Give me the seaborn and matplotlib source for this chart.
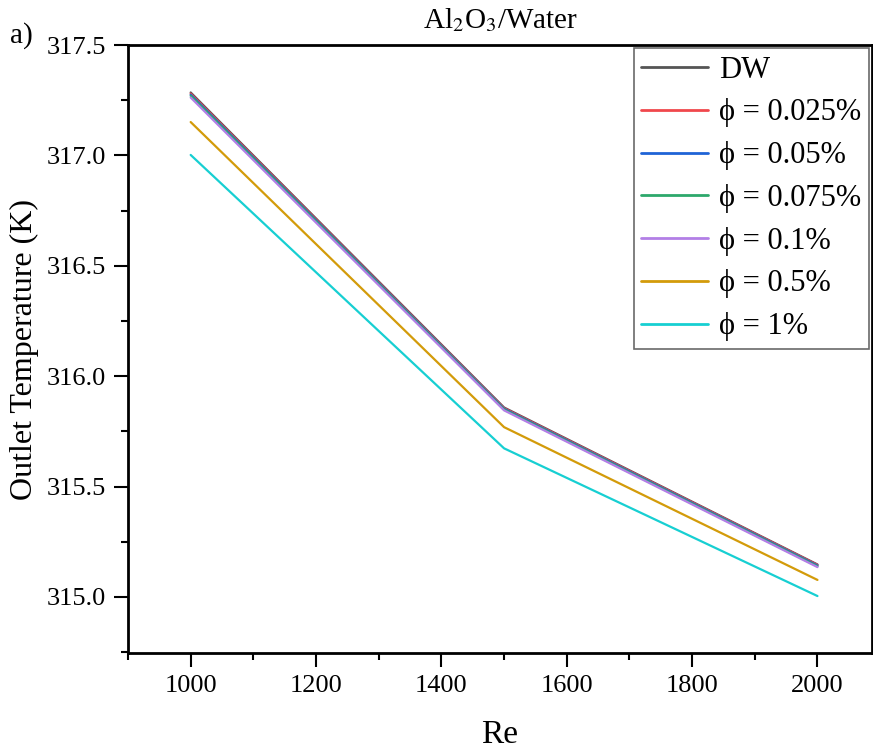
import pandas as pd
import matplotlib
matplotlib.use("Agg")
import matplotlib.pyplot as plt
import seaborn as sns
from matplotlib.ticker import MultipleLocator

# Data
re_values = [1000, 1500, 2000]
series_names = ["DW", "ϕ = 0.025%", "ϕ = 0.05%", "ϕ = 0.075%",
                "ϕ = 0.1%", "ϕ = 0.5%", "ϕ = 1%"]
t_dw = [317.285, 315.858, 315.147]
t_0025 = [317.280, 315.855, 315.145]
t_005 = [317.275, 315.852, 315.142]
t_0075 = [317.270, 315.849, 315.139]
t_01 = [317.262, 315.845, 315.135]
t_05 = [317.151, 315.769, 315.077]
t_1 = [317.002, 315.673, 315.004]
colors = ["#555555", "#F0474C", "#1F63D6", "#2DA86B", "#B27FE6", "#D39B0A", "#17CFD2"]

series = [t_dw, t_0025, t_005, t_0075, t_01, t_05, t_1]
rows = []
for name, vals in zip(series_names, series):
    for re, t in zip(re_values, vals):
        rows.append({"Re": re, "T": t, "case": name})
df = pd.DataFrame(rows)

sns.set_style("ticks", {"axes.edgecolor": "black", "text.color": "black",
                        "xtick.color": "black", "ytick.color": "black",
                        "axes.labelcolor": "black"})
plt.rcParams["font.family"] = ["Liberation Serif", "DejaVu Serif"]
plt.rcParams["mathtext.fontset"] = "stix"

fig = plt.figure(figsize=(8.73, 7.49), dpi=100)
ax = fig.add_axes([128 / 873, 1 - 653 / 749, 744 / 873, 608 / 749])

sns.lineplot(data=df, x="Re", y="T", hue="case", hue_order=series_names,
             palette=colors, linewidth=1.6, ax=ax, legend=True)

ax.set_xlim(900, 2087)
ax.set_ylim(314.746, 317.5)
ax.xaxis.set_major_locator(MultipleLocator(200))
ax.xaxis.set_minor_locator(MultipleLocator(100))
ax.yaxis.set_major_locator(MultipleLocator(0.5))
ax.yaxis.set_minor_locator(MultipleLocator(0.25))
ax.yaxis.set_major_formatter(matplotlib.ticker.FormatStrFormatter("%.1f"))
ax.tick_params(which="major", direction="out", length=10, width=1.5, labelsize=19, pad=6)
ax.tick_params(which="minor", direction="out", length=5, width=1.5)
for s in ax.spines.values():
    s.set_linewidth(2)

ax.set_xlabel("Re", fontsize=24, labelpad=16)
ax.set_ylabel("Outlet Temperature (K)", fontsize=23, labelpad=5)
ax.set_title("Al$_2$O$_3$/Water", fontsize=21, pad=12)
fig.text(10 / 873, 1 - 36 / 749, "a)", fontsize=21, ha="left", va="center")

leg = ax.legend(loc="upper right", fontsize=22, frameon=True, fancybox=False,
                borderaxespad=0.1, handlelength=2.2, handletextpad=0.35,
                labelspacing=0.45, borderpad=0.25)
leg.get_frame().set_edgecolor("#444444")
leg.get_frame().set_linewidth(1.2)
for line in leg.get_lines():
    line.set_linewidth(2)

fig.savefig("out.png", dpi=100)
